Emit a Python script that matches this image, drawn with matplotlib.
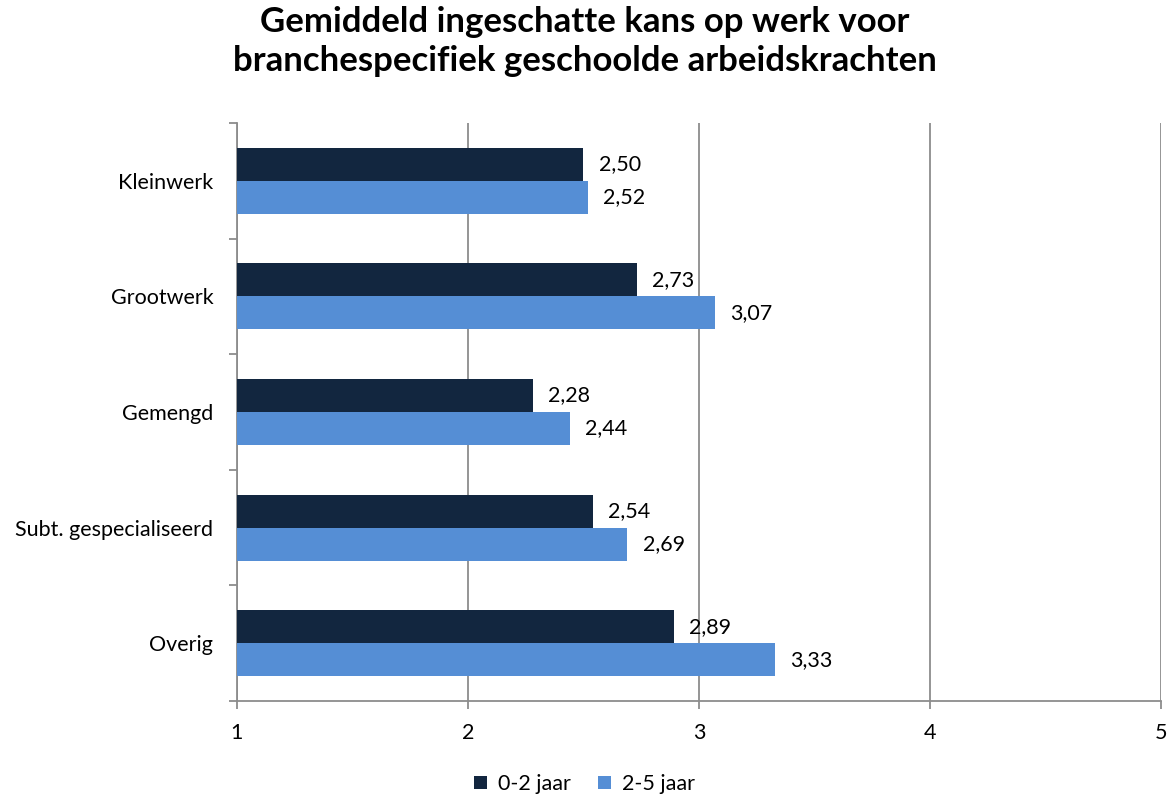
import matplotlib.pyplot as plt
import numpy as np

plt.rcParams['font.family'] = ['Lato', 'DejaVu Sans']

categories = ['Kleinwerk', 'Grootwerk', 'Gemengd', 'Subt. gespecialiseerd', 'Overig']
jaar_0_2 = [2.50, 2.73, 2.28, 2.54, 2.89]
jaar_2_5 = [2.52, 3.07, 2.44, 2.69, 3.33]
xticks = [1, 2, 3, 4, 5]

dark = '#12263f'
light = '#558ed5'
grey = '#8c8c8c'

fig = plt.figure(figsize=(11.69, 7.96), dpi=100)
ax = fig.add_axes([0.2027, 0.1193, 0.7905, 0.7262])

y = np.arange(len(categories))
h = 0.285
ax.barh(y - h / 2, np.array(jaar_0_2) - 1, left=1, height=h, color=dark, label='0-2 jaar', zorder=3)
ax.barh(y + h / 2, np.array(jaar_2_5) - 1, left=1, height=h, color=light, label='2-5 jaar', zorder=3)

for yi, v in zip(y - h / 2, jaar_0_2):
    ax.annotate(f'{v:.2f}'.replace('.', ','), (v, yi), xytext=(11, 0), textcoords='offset points',
                va='center', ha='left', fontsize=15.5)
for yi, v in zip(y + h / 2, jaar_2_5):
    ax.annotate(f'{v:.2f}'.replace('.', ','), (v, yi), xytext=(11, 0), textcoords='offset points',
                va='center', ha='left', fontsize=15.5)

ax.set_xlim(1, 5)
ax.set_ylim(len(categories) - 0.5, -0.5)
ax.set_xticks(xticks)
ax.set_xticklabels([str(t) for t in xticks], fontsize=15.5)
ax.set_yticks(y)
ax.set_yticklabels(categories, fontsize=15.5)
ax.set_yticks(np.arange(-0.5, len(categories)), minor=True)
ax.tick_params(axis='y', which='major', length=0, pad=17)
ax.tick_params(axis='y', which='minor', length=6, color=grey, width=1.3)
ax.tick_params(axis='x', length=6, color=grey, width=1.3, pad=10)
ax.xaxis.grid(True, color=grey, linewidth=1.3, zorder=0)

for s in ['top', 'right']:
    ax.spines[s].set_visible(False)
for s in ['left', 'bottom']:
    ax.spines[s].set_color(grey)
    ax.spines[s].set_linewidth(1.3)

fig.suptitle('Gemiddeld ingeschatte kans op werk voor\nbranchespecifiek geschoolde arbeidskrachten',
             fontsize=25, fontweight='bold', y=0.993, linespacing=1.3)

fig.legend(loc='lower center', bbox_to_anchor=(0.5, -0.022), ncol=2, frameon=False, fontsize=15.5,
           handlelength=0.6, handleheight=0.6, columnspacing=1.3, handletextpad=0.5)

fig.savefig('out.png', dpi=100)
